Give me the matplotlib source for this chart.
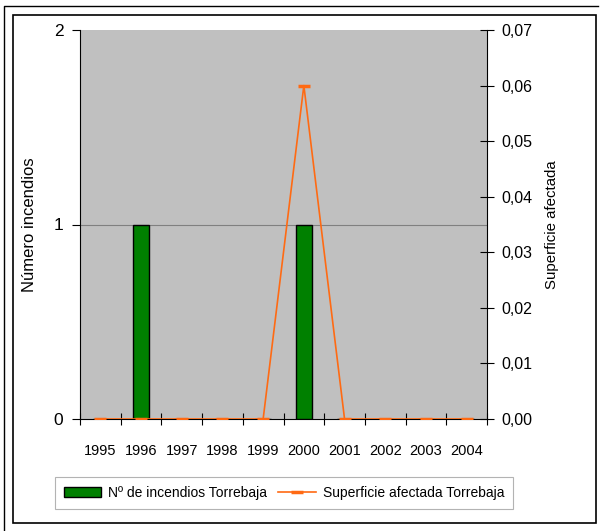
import numpy as np
import matplotlib.pyplot as plt
from matplotlib.patches import Rectangle
from matplotlib.lines import Line2D

plt.rcParams['font.family'] = ['Liberation Sans', 'DejaVu Sans']

years = ['1995', '1996', '1997', '1998', '1999', '2000', '2001', '2002', '2003', '2004']
num_incendios = [0, 1, 0, 0, 0, 1, 0, 0, 0, 0]
superficie = [0, 0, 0, 0, 0, 0.06, 0, 0, 0, 0]
sup_ticks = [0, 0.01, 0.02, 0.03, 0.04, 0.05, 0.06, 0.07]

W, H = 602, 531
fig = plt.figure(figsize=(W / 100, H / 100), dpi=100)

# outer frame lines (top + left, cropped) and inner chart frame
fig.lines.append(Line2D([3.5 / W, 3.5 / W, 598 / W], [0, 1 - 5.5 / H, 1 - 5.5 / H],
                        transform=fig.transFigure, color='black', linewidth=1.0))
fig.patches.append(Rectangle((12.5 / W, 1 - 522.5 / H), 583.5 / W, 508 / H, transform=fig.transFigure,
                             fill=False, edgecolor='black', linewidth=1.2))

left, right, top, bottom = 80, 487, 30, 419
ax = fig.add_axes([left / W, 1 - bottom / H, (right - left) / W, (bottom - top) / H])
ax.set_facecolor('#C0C0C0')

x = np.arange(len(years))
ax.bar(x, num_incendios, width=0.38, color='#008000', edgecolor='black', linewidth=1.0,
       label='N\u00ba de incendios Torrebaja', zorder=3)
ax.set_xlim(-0.5, len(years) - 0.5)
ax.set_ylim(0, 2)
ax.set_yticks([0, 1, 2])
ax.set_yticklabels(['0', '1', '2'], fontsize=12.5)
ax.axhline(1, color='#808080', linewidth=0.8, zorder=1)
ax.set_ylabel('N\u00famero incendios', fontsize=12, labelpad=12)

ax.set_xticks(x)
ax.set_xticklabels(years, fontsize=10.5)
ax.tick_params(axis='x', length=0, pad=18)
ax.set_xticks(np.arange(-0.5, len(years)), minor=True)
ax.tick_params(axis='x', which='minor', direction='inout', length=8, width=0.8)
ax.tick_params(axis='y', direction='out', length=6, width=0.8, pad=6)

for s in ['top', 'right']:
    ax.spines[s].set_visible(False)
ax.spines['left'].set_linewidth(0.8)
ax.spines['bottom'].set_linewidth(0.8)

ax2 = ax.twinx()
ax2.plot(x, superficie, color='#FF6A13', linewidth=1.2, marker='_', markersize=8,
         markeredgewidth=2.5, label='Superficie afectada Torrebaja', zorder=4)
ax2.set_ylim(0, 0.07)
ax2.set_yticks(sup_ticks)
ax2.set_yticklabels([('%.2f' % v).replace('.', ',') for v in sup_ticks], fontsize=11.5)
ax2.tick_params(axis='y', direction='inout', length=10, width=0.8, pad=5)
ax2.set_ylabel('Superficie afectada', fontsize=10.8, labelpad=9)
for s in ['top', 'left', 'bottom']:
    ax2.spines[s].set_visible(False)
ax2.spines['right'].set_linewidth(0.8)

h1, l1 = ax.get_legend_handles_labels()
h2, l2 = ax2.get_legend_handles_labels()
leg = fig.legend(h1 + h2, l1 + l2, loc='center', ncol=2, fontsize=10,
                 bbox_to_anchor=(284 / W, 1 - 493 / H), frameon=True, fancybox=False,
                 handlelength=2.7, handletextpad=0.5, columnspacing=0.8, borderpad=0.65,
                 borderaxespad=0)
leg.get_frame().set_edgecolor('#A0A0A0')
leg.get_frame().set_linewidth(0.8)

fig.savefig('out.png', dpi=100)
